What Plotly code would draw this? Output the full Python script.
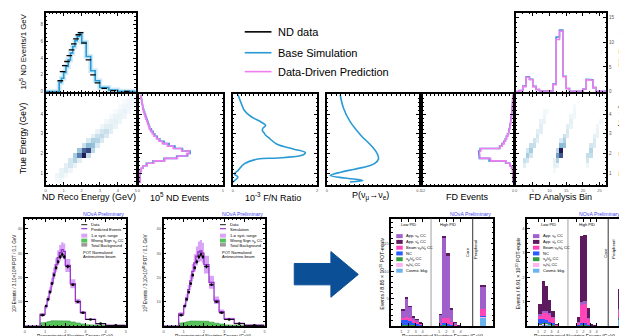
import numpy as np
import plotly.graph_objects as go

W, H = 627, 336
FONT = "Liberation Sans, Arial, sans-serif"

# ====================== DATA ======================
# --- top-left: ND reco energy spectrum (10^5 events / 1 GeV)
nd_reco_edges = [0, 0.75, 0.875, 1.0, 1.125, 1.25, 1.375, 1.5, 1.625, 1.75, 1.875, 2.0,
                 2.25, 2.5, 2.75, 3.0, 3.5, 4.0, 5.0]
nd_reco_sim = [0, 1.1, 1.6, 2.3, 3.0, 3.8, 4.6, 5.4, 6.1, 6.6, 6.9, 5.9, 4.2, 2.5, 1.3, 0.5, 0.2, 0.05]
nd_reco_data = [0, 1.3, 2.4, 3.1, 3.6, 4.3, 5.0, 5.7, 6.3, 6.8, 7.05, 5.8, 3.8, 2.0, 1.05, 0.4, 0.12, 0.03]

# --- true-energy binning for the side histograms
true_edges = list(np.arange(0.5, 5.0001, 0.125))
nd_true_sim = [0.01, 0.01, 0.01, 0.015, 0.02, 0.03, 0.05, 0.09, 0.17, 0.30, 0.45, 0.58, 0.61, 0.52,
               0.43, 0.36, 0.30, 0.25, 0.22, 0.19, 0.17, 0.15, 0.13, 0.12, 0.11, 0.10, 0.09, 0.08,
               0.07, 0.06, 0.05, 0.045, 0.04, 0.035, 0.03, 0.025]
nd_true_pred = [0.02, 0.015, 0.01, 0.012, 0.02, 0.03, 0.05, 0.10, 0.18, 0.31, 0.46, 0.57, 0.60, 0.51,
                0.41, 0.34, 0.28, 0.24, 0.21, 0.18, 0.16, 0.14, 0.125, 0.115, 0.105, 0.095, 0.085,
                0.075, 0.065, 0.055, 0.05, 0.045, 0.04, 0.035, 0.03, 0.025]
fd_true_sim = [0, 0, 0.01, 0.02, 0.04, 0.08, 0.2, 0.45, 1.0, 3.2, 4.5, 4.6, 4.6, 4.4, 1.8, 1.5,
               1.25, 1.05, 0.9, 0.75, 0.62, 0.55, 0.48, 0.42, 0.36, 0.31, 0.27, 0.23, 0.19, 0.16,
               0.13, 0.1, 0.08, 0.06, 0.05, 0.04]
fd_true_pred = [0, 0, 0.01, 0.02, 0.04, 0.08, 0.2, 0.43, 0.95, 3.0, 4.4, 4.5, 4.5, 4.3, 1.75, 1.45,
                1.2, 1.0, 0.86, 0.72, 0.6, 0.52, 0.45, 0.4, 0.34, 0.29, 0.25, 0.21, 0.18, 0.15,
                0.12, 0.1, 0.08, 0.06, 0.05, 0.04]

# --- far/near ratio (10^-3) and oscillation probability vs true energy
fn_true = [0.55, 0.8, 0.95, 1.13, 1.47, 1.72, 1.77, 1.88, 1.97, 2.05, 2.22, 2.47, 2.8, 2.93,
           3.05, 3.17, 3.3, 3.43, 3.6, 3.88, 4.2, 4.55, 5.0]
fn_ratio = [0.0, 0.12, 0.04, 0.12, 0.27, 0.59, 1.06, 1.6, 1.7, 1.72, 1.45, 1.05, 0.85, 0.78,
            0.74, 0.7, 0.72, 0.78, 0.67, 0.43, 0.27, 0.2, 0.12]
p_true = [0.55, 0.63, 0.75, 0.88, 1.05, 1.2, 1.38, 1.5, 1.72, 1.95, 2.3, 2.97, 3.63, 4.3, 5.0]
p_val = [0.025, 0.039, 0.02, 0.0036, 0.015, 0.03, 0.046, 0.052, 0.056, 0.055, 0.05, 0.036,
         0.025, 0.018, 0.0143]

# --- ND reco vs true heat map (sparse cells)
nd_cell_reco = [0.625, 0.875,
                0.625, 0.875, 1.125,
                0.875, 1.125, 1.375,
                1.125, 1.375, 1.625,
                1.375, 1.625, 1.875,
                1.625, 1.875, 2.125, 2.375,
                1.875, 2.125, 2.375, 2.625,
                2.125, 2.375, 2.625, 2.875,
                2.375, 2.625, 2.875, 3.125,
                2.625, 2.875, 3.125, 3.375,
                2.875, 3.125, 3.375, 3.625,
                3.125, 3.375, 3.625, 3.875,
                3.375, 3.625, 3.875, 4.125,
                3.625, 3.875, 4.125, 4.375,
                3.875, 4.125, 4.375, 4.625,
                4.125, 4.375, 4.625, 4.875,
                4.375, 4.625, 4.875,
                4.625, 4.875]
nd_cell_true = [0.625, 0.625,
                0.875, 0.875, 0.875,
                1.125, 1.125, 1.125,
                1.375, 1.375, 1.375,
                1.625, 1.625, 1.625,
                1.875, 1.875, 1.875, 1.875,
                2.125, 2.125, 2.125, 2.125,
                2.375, 2.375, 2.375, 2.375,
                2.625, 2.625, 2.625, 2.625,
                2.875, 2.875, 2.875, 2.875,
                3.125, 3.125, 3.125, 3.125,
                3.375, 3.375, 3.375, 3.375,
                3.625, 3.625, 3.625, 3.625,
                3.875, 3.875, 3.875, 3.875,
                4.125, 4.125, 4.125, 4.125,
                4.375, 4.375, 4.375, 4.375,
                4.625, 4.625, 4.625,
                4.875, 4.875]
nd_cell_w = [0.04, 0.04,
             0.06, 0.09, 0.04,
             0.08, 0.13, 0.06,
             0.11, 0.18, 0.08,
             0.18, 0.30, 0.12,
             0.35, 0.65, 1.00, 0.25,
             0.40, 0.75, 0.85, 0.28,
             0.22, 0.45, 0.42, 0.15,
             0.15, 0.32, 0.30, 0.15,
             0.10, 0.22, 0.26, 0.15,
             0.08, 0.18, 0.22, 0.11,
             0.06, 0.11, 0.13, 0.08,
             0.05, 0.09, 0.10, 0.06,
             0.04, 0.08, 0.09, 0.06,
             0.03, 0.06, 0.08, 0.05,
             0.03, 0.05, 0.06, 0.04,
             0.03, 0.05, 0.05,
             0.03, 0.04]

# --- FD analysis bin vs true energy heat map (sparse cells)
fd_cell_bin = [2, 2, 3, 3, 4, 3, 4, 4, 5, 5, 6, 6, 6, 7, 7, 7, 8, 8, 8, 9,
               11, 11, 12, 11, 12, 12, 13, 12, 13, 13, 14, 13, 14, 14, 15, 15, 15, 16, 16, 16, 17, 17, 17,
               21, 21, 21, 22, 22, 22, 23, 23, 23, 24, 24, 24, 25]
fd_cell_true = [1.375, 1.625, 1.625, 1.875, 1.875, 2.125, 2.125, 2.375, 2.375, 2.625, 2.625, 2.875,
                3.125, 3.125, 3.375, 3.625, 3.625, 3.875, 4.125, 4.125,
                1.125, 1.375, 1.375, 1.625, 1.625, 1.875, 1.875, 2.125, 2.125, 2.375, 2.375, 2.625,
                2.625, 2.875, 2.875, 3.125, 3.375, 3.375, 3.625, 3.875, 3.875, 4.125, 4.375,
                1.375, 1.625, 1.875, 1.875, 2.125, 2.375, 2.375, 2.625, 2.875, 2.875, 3.125, 3.375, 3.625]
fd_cell_w = [0.12, 0.22, 0.18, 0.35, 0.18, 0.18, 0.35, 0.24, 0.24, 0.20, 0.12, 0.18,
             0.12, 0.12, 0.12, 0.08, 0.08, 0.06, 0.05, 0.04,
             0.05, 0.10, 0.08, 0.10, 0.32, 0.55, 0.80, 0.28, 1.00, 0.45, 0.42, 0.15,
             0.32, 0.22, 0.14, 0.17, 0.12, 0.08, 0.10, 0.06, 0.05, 0.05, 0.04,
             0.06, 0.18, 0.24, 0.24, 0.30, 0.18, 0.15, 0.15, 0.10, 0.08, 0.08, 0.06, 0.05]

# --- FD events per analysis bin
fd_bin_sim = [0, 0.2, 1.1, 3.0, 2.5, 1.05, 0.4, 0.1, 0.05, 0.05, 0.1, 1.5, 11.1, 12.5, 3.1, 0.6,
              0.1, 0.05, 0.05, 0.05, 0.5, 2.5, 2.4, 0.8, 0.1, 0.05, 0.05]
fd_bin_pred = [0, 0.2, 1.0, 2.9, 2.4, 1.0, 0.4, 0.1, 0.05, 0.05, 0.1, 1.4, 10.6, 12.3, 3.0, 0.6,
               0.1, 0.05, 0.05, 0.05, 0.5, 2.4, 2.3, 0.8, 0.1, 0.05, 0.05]

# --- bottom row: ND antineutrino spectra (10^3 events / 0.1 GeV)
bp_edges = [0, 0.75, 1.0, 1.1, 1.2, 1.3, 1.4, 1.5, 1.6, 1.7, 1.8, 1.9, 2.0, 2.25, 2.5, 2.75, 3.0, 3.5, 4.0, 5.0]
bp_data = [0, 4.5, 8.3, 11, 14, 17.5, 21, 24, 26.5, 28.5, 29.5, 28.5, 24.5, 17, 10, 5.5, 2.7, 1.0, 0.3]
bp_pred = [0, 4.8, 8.0, 11.2, 14.5, 18, 21.8, 25.2, 28.2, 30.2, 31.5, 30.8, 25, 17.5, 10.2, 5.6, 2.8, 1.0, 0.3]
bp_pred_hi = [0, 5.3, 8.9, 12.4, 16.0, 19.9, 24.1, 27.9, 31.2, 33.4, 34.5, 34.0, 27.6, 19.3, 11.3, 6.2, 3.1, 1.15, 0.35]
bp_pred_lo = [0, 4.3, 7.1, 10.0, 12.9, 16.0, 19.4, 22.4, 25.1, 26.9, 28.0, 27.4, 22.3, 15.6, 9.1, 5.0, 2.5, 0.88, 0.25]
bp_pred_ws = [0, 1.3, 1.6, 1.8, 2.0, 2.2, 2.3, 2.4, 2.4, 2.4, 2.3, 2.3, 2.1, 1.7, 1.3, 0.9, 0.55, 0.3, 0.1]
bp_sim = [0, 5.0, 8.3, 11.6, 15.0, 18.6, 22.5, 26.0, 28.8, 30.5, 31.0, 30.0, 25.3, 18.0, 10.6, 5.9, 3.0, 1.1, 0.35]
bp_sim_hi = [0, 5.7, 9.4, 13.1, 17.0, 21.1, 25.6, 29.6, 32.8, 34.8, 35.4, 34.3, 29.0, 20.7, 12.2, 6.8, 3.45, 1.27, 0.4]
bp_sim_lo = [0, 4.3, 7.2, 10.0, 13.0, 16.1, 19.5, 22.5, 24.9, 26.3, 26.7, 25.8, 21.7, 15.4, 9.1, 5.1, 2.6, 0.95, 0.3]
bp_sim_ws = [0, 1.2, 1.5, 1.7, 1.9, 2.1, 2.2, 2.3, 2.3, 2.3, 2.2, 2.2, 2.0, 1.6, 1.2, 0.85, 0.5, 0.28, 0.1]

# --- FD nu_e predictions: 6 low-PID bins, 6 high-PID bins, 1 peripheral bin
fd_e = [1.25, 1.75, 2.25, 2.75, 3.25, 3.75]
fdn_cosmic = [0.15, 0.2, 0.15, 0.12, 0.1, 0.08, 0.05, 0.1, 0.1, 0.05, 0.02, 0.01, 1.7]
fdn_nutau = [0.02, 0.03, 0.05, 0.05, 0.04, 0.03, 0.0, 0.02, 0.03, 0.03, 0.02, 0.01, 0.02]
fdn_numu = [0.1, 0.1, 0.08, 0.06, 0.05, 0.04, 0.02, 0.05, 0.05, 0.03, 0.02, 0.01, 0.05]
fdn_beam = [0.3, 0.45, 0.45, 0.4, 0.35, 0.25, 0.15, 0.9, 1.0, 0.5, 0.15, 0.05, 1.3]
fdn_nc = [1.0, 0.9, 0.75, 0.45, 0.3, 0.15, 0.2, 0.4, 0.3, 0.15, 0.05, 0.02, 0.15]
fdn_app_nue = [1.35, 3.4, 2.1, 0.6, 0.35, 0.05, 1.7, 14.6, 11.4, 2.4, 0.4, 0.1, 4.1]
fdn_app_nuebar = [0.08, 0.12, 0.12, 0.06, 0.03, 0.02, 0.08, 0.5, 0.45, 0.12, 0.03, 0.01, 0.2]

fda_cosmic = [0.05, 0.08, 0.08, 0.06, 0.04, 0.02, 0.01, 0.03, 0.03, 0.02, 0.01, 0.0, 0.3]
fda_nutau = [0.01, 0.02, 0.02, 0.02, 0.01, 0.0, 0.0, 0.01, 0.01, 0.01, 0.0, 0.0, 0.0]
fda_numu = [0.03, 0.04, 0.04, 0.03, 0.02, 0.01, 0.01, 0.02, 0.02, 0.01, 0.0, 0.0, 0.02]
fda_beam = [0.15, 0.28, 0.3, 0.3, 0.25, 0.03, 0.1, 0.75, 0.8, 0.25, 0.03, 0.01, 0.28]
fda_nc = [0.2, 0.15, 0.12, 0.08, 0.05, 0.01, 0.03, 0.07, 0.06, 0.03, 0.01, 0.0, 0.03]
fda_app_nue = [0.06, 0.08, 0.07, 0.04, 0.02, 0.0, 0.02, 0.12, 0.12, 0.03, 0.0, 0.0, 0.07]
fda_app_nuebar = [0.4, 1.2, 1.04, 0.57, 0.26, 0.01, 0.23, 2.7, 2.71, 0.4, 0.05, 0.01, 0.85]

NUB = "\u03bd\u0304"
fd_labels = ["App. \u03bd<sub>e</sub> CC", "App. " + NUB + "<sub>e</sub> CC",
             "Beam \u03bd<sub>e</sub>/" + NUB + "<sub>e</sub> CC", "NC",
             "\u03bd<sub>\u03bc</sub>/" + NUB + "<sub>\u03bc</sub> CC",
             "\u03bd<sub>\u03c4</sub>/" + NUB + "<sub>\u03c4</sub> CC", "Cosmic bkg."]

# ====================== STYLE ======================
BLUE = "#2a9ad4"
PINK = "#f07cf0"
PALE = "#d3ebf7"
PURPLE = "#9933cc"
BAND = "#d9a3f7"
GREEN = "#55c25a"
GREY = "#9a9a9a"
NOVA = "#3f48f0"
fd_colors = ["#a15fcc", "#5e1a5e", "#ff45b8", "#2b5bff", "#2e9e3a", "#ffb3f0", "#6cb4ee"]
heat_scale = [[0, "#ffffff"], [0.05, "#f1f7fa"], [0.2, "#cfe4ee"], [0.45, "#8dbdd6"],
              [0.7, "#4d72a8"], [1, "#221c55"]]

fig = go.Figure()
layout = {}
shapes = []
annotations = []


def P(xpx, ypx):
    return xpx / W, 1 - ypx / H


def axes(n, xpx, ypx, xr, yr, xkw=None, ykw=None, fs=4.5):
    sfx = "" if n == 1 else str(n)
    base = dict(showline=True, linewidth=1.6, linecolor="black", mirror="ticks", ticks="inside",
                ticklen=3, tickwidth=0.7, tickcolor="black", showgrid=False, zeroline=False,
                tickfont=dict(size=fs, color="#555555", family=FONT), fixedrange=True,
                minor=dict(ticks="inside", ticklen=1.5, tickwidth=0.5, tickcolor="black"))
    xa = dict(base)
    xa.update(domain=[xpx[0] / W, xpx[1] / W], range=xr, anchor="y" + sfx)
    xa.update(xkw or {})
    ya = dict(base)
    ya.update(domain=[1 - ypx[1] / H, 1 - ypx[0] / H], range=yr, anchor="x" + sfx)
    ya.update(ykw or {})
    layout["xaxis" + sfx] = xa
    layout["yaxis" + sfx] = ya
    return "x" + sfx, "y" + sfx


def ann(text, x, y, size, angle=0, color="black", xanchor="center", yanchor="middle"):
    xp, yp = P(x, y)
    annotations.append(dict(text=text, x=xp, y=yp, xref="paper", yref="paper", showarrow=False,
                            textangle=angle, xanchor=xanchor, yanchor=yanchor,
                            font=dict(size=size, color=color, family=FONT)))


def rect(x0, y0, x1, y1, color):
    a, b = P(x0, y0), P(x1, y1)
    shapes.append(dict(type="rect", xref="paper", yref="paper", x0=a[0], x1=b[0], y0=b[1], y1=a[1],
                       fillcolor=color, line=dict(width=0)))


def seg(x0, y0, x1, y1, color, width):
    a, b = P(x0, y0), P(x1, y1)
    shapes.append(dict(type="line", xref="paper", yref="paper", x0=a[0], x1=b[0], y0=a[1], y1=b[1],
                       line=dict(color=color, width=width)))


def step_xy(edges, vals):
    xs, ys = [], []
    for i, v in enumerate(vals):
        xs += [edges[i], edges[i + 1]]
        ys += [v, v]
    return xs, ys


def line(xa, ya, x, y, color, width, shape="linear"):
    fig.add_trace(go.Scatter(x=x, y=y, xaxis=xa, yaxis=ya, mode="lines", hoverinfo="skip",
                             line=dict(color=color, width=width, shape=shape), showlegend=False))


def sparse_grid(xc, yc, xs, ys, ws, xstep, ystep, x0, y0):
    z = np.zeros((len(yc), len(xc)))
    for a, b, w in zip(xs, ys, ws):
        z[int(round((b - y0) / ystep - 0.5)), int(round((a - x0) / xstep - 0.5))] = w
    return z


Y_TRUE = [0.4, 5.0]
TOP = (5, 85)
MID = (87, 178)
SMALLX = dict(size=4, color="#555555", family=FONT)

# ---------- 1: ND reco spectrum ----------
xa, ya = axes(1, (36, 127), TOP, [0, 5], [-0.1, 9.4],
              dict(showticklabels=False, dtick=1),
              dict(dtick=2, tickvals=[0, 2, 4, 6, 8]))
sx, sy = step_xy(nd_reco_edges, nd_reco_sim)
line(xa, ya, sx, sy, PALE, 5)
line(xa, ya, sx, sy, BLUE, 1.6)
cx = [(nd_reco_edges[i] + nd_reco_edges[i + 1]) / 2 for i in range(len(nd_reco_data)) if nd_reco_data[i] > 0]
cy = [v for v in nd_reco_data if v > 0]
fig.add_trace(go.Scatter(x=cx, y=cy, xaxis=xa, yaxis=ya, mode="markers", showlegend=False,
                         marker=dict(symbol="line-ew", size=4, line=dict(color="black", width=1.3))))

# ---------- 2: ND heat map ----------
xa, ya = axes(2, (36, 127), MID, [0, 5], Y_TRUE, dict(dtick=1, tickfont=SMALLX),
              dict(tickvals=[1, 2, 3, 4]))
nd_xc = list(np.arange(0.125, 5, 0.25))
yc = list(np.arange(0.625, 5, 0.25))
z = sparse_grid(nd_xc, yc, nd_cell_reco, nd_cell_true, nd_cell_w, 0.25, 0.25, 0.0, 0.5)
fig.add_trace(go.Heatmap(x=nd_xc, y=yc, z=z, xaxis=xa, yaxis=ya, colorscale=heat_scale, zmin=0,
                         zmax=1, showscale=False, hoverinfo="skip"))

# ---------- 3: ND events vs true energy ----------
xa, ya = axes(3, (130, 215), MID, [0, 1.0], Y_TRUE, dict(tickvals=[0, 1], tickfont=SMALLX),
              dict(showticklabels=False, tickvals=[1, 2, 3, 4]))
ys_, xs_ = step_xy(true_edges, nd_true_sim)
line(xa, ya, xs_, ys_, BLUE, 1.6)
ys_, xs_ = step_xy(true_edges, nd_true_pred)
line(xa, ya, xs_, ys_, PINK, 1.6)

# ---------- 4: F/N ratio ----------
xa, ya = axes(4, (225, 310), MID, [0, 2], Y_TRUE, dict(tickvals=[0, 2], tickfont=SMALLX),
              dict(showticklabels=False, tickvals=[1, 2, 3, 4]))
line(xa, ya, fn_ratio, fn_true, BLUE, 1.6, "spline")

# ---------- 5: oscillation probability ----------
xa, ya = axes(5, (320, 413), MID, [0, 0.1], Y_TRUE, dict(tickvals=[0, 0.1], tickfont=SMALLX),
              dict(showticklabels=False, tickvals=[1, 2, 3, 4]))
line(xa, ya, p_val, p_true, BLUE, 1.6, "spline")

# ---------- 6: FD events vs true energy ----------
xa, ya = axes(6, (417, 508), MID, [12, 0], Y_TRUE, dict(tickvals=[12, 0], tickfont=SMALLX),
              dict(showticklabels=False, tickvals=[1, 2, 3, 4]))
ys_, xs_ = step_xy(true_edges, fd_true_sim)
line(xa, ya, xs_, ys_, BLUE, 1.6)
ys_, xs_ = step_xy(true_edges, fd_true_pred)
line(xa, ya, xs_, ys_, PINK, 1.6)

# ---------- 7: FD heat map ----------
xa, ya = axes(7, (511, 602), MID, [0, 27], Y_TRUE, dict(tickvals=[0, 5, 10, 15, 20, 25], tickfont=SMALLX),
              dict(tickvals=[1, 2, 3, 4], side="right"))
fd_xc = list(np.arange(0.5, 27, 1.0))
z = sparse_grid(fd_xc, yc, [b + 0.5 for b in fd_cell_bin], fd_cell_true, fd_cell_w, 1.0, 0.25, 0.0, 0.5)
fig.add_trace(go.Heatmap(x=fd_xc, y=yc, z=z, xaxis=xa, yaxis=ya, colorscale=heat_scale, zmin=0,
                         zmax=1, showscale=False, hoverinfo="skip"))

# ---------- 8: FD events per analysis bin ----------
xa, ya = axes(8, (511, 602), TOP, [0, 27], [-0.2, 16],
              dict(showticklabels=False, tickvals=[0, 5, 10, 15, 20, 25]),
              dict(tickvals=[0, 5, 10, 15], side="right"))
fd_bin_edges = list(range(0, 28))
sx, sy = step_xy(fd_bin_edges, fd_bin_sim)
line(xa, ya, sx, sy, BLUE, 1.6)
sx, sy = step_xy(fd_bin_edges, fd_bin_pred)
line(xa, ya, sx, sy, PINK, 1.6)

# top-row axis titles
ann("ND Reco Energy (GeV)", 80, 190, 9)
ann("10<sup>5</sup> ND Events", 172, 190, 9)
ann("10<sup>-3</sup> F/N Ratio", 266, 190, 9)
ann("P(\u03bd<sub>\u03bc</sub>\u2192\u03bd<sub>e</sub>)", 364, 189, 9)
ann("FD Events", 462, 190, 9)
ann("FD Analysis Bin", 556, 190, 9)
ann("10<sup>5</sup> ND Events/1 GeV", 13, 44, 7.8, angle=-90)
ann("True Energy (GeV)", 13, 131, 8.5, angle=-90)
ann("FD Events", 618, 40, 8.5, angle=-90)
ann("True Energy (GeV)", 618, 133, 8.5, angle=-90)

# top legend
for yy, col, txt in [(24, "black", "ND data"), (45, BLUE, "Base Simulation"),
                     (64, PINK, "Data-Driven Prediction")]:
    seg(237, yy, 264, yy, col, 1.6)
    ann(txt, 269, yy, 11, xanchor="left")

# ---------- 9 / 10: ND antineutrino spectra ----------
BOT = (212, 320)


def nd_panel(n, xpx, main, hi, lo, ws, main_label, leg_x):
    xa, ya = axes(n, xpx, BOT, [0, 5], [0, 44.2], dict(dtick=1), dict(tickvals=[10, 20, 30, 40]), fs=4)
    bx = step_xy(bp_edges, hi)[0] + step_xy(bp_edges, lo)[0][::-1]
    by = step_xy(bp_edges, hi)[1] + step_xy(bp_edges, lo)[1][::-1]
    fig.add_trace(go.Scatter(x=bx, y=by, xaxis=xa, yaxis=ya, mode="lines", fill="toself",
                             fillcolor=BAND, line=dict(width=0), showlegend=False, hoverinfo="skip"))
    gx, gy = step_xy(bp_edges, ws)
    fig.add_trace(go.Scatter(x=gx, y=gy, xaxis=xa, yaxis=ya, mode="lines", fill="tozeroy",
                             fillcolor=GREEN, line=dict(width=0.6, color="#2f9a3a"),
                             showlegend=False, hoverinfo="skip"))
    mx, my = step_xy(bp_edges, main)
    line(xa, ya, mx, my, PURPLE, 1.3)
    ctr = [(bp_edges[i] + bp_edges[i + 1]) / 2 for i in range(len(bp_data)) if bp_data[i] > 0]
    hw = [(bp_edges[i + 1] - bp_edges[i]) / 2 for i in range(len(bp_data)) if bp_data[i] > 0]
    dv = [v for v in bp_data if v > 0]
    fig.add_trace(go.Scatter(x=ctr, y=dv, xaxis=xa, yaxis=ya, mode="markers", showlegend=False,
                             marker=dict(color="black", size=2.6),
                             error_x=dict(type="data", array=hw, color="black", thickness=0.9, width=0),
                             error_y=dict(type="percent", value=3, color="black", thickness=0.9, width=0)))
    # legend
    seg(leg_x, 218, leg_x + 6, 218, "black", 0.9)
    ann("Data", leg_x + 8, 218, 4, xanchor="left")
    seg(leg_x, 222, leg_x + 6, 222, PURPLE, 1.2)
    ann(main_label, leg_x + 8, 222.5, 4, xanchor="left")
    rect(leg_x, 227, leg_x + 6, 231, BAND)
    ann("1-\u03c3 syst. range", leg_x + 8, 229, 4, xanchor="left")
    rect(leg_x, 232, leg_x + 6, 236, GREEN)
    ann("Wrong Sign \u03bd<sub>\u03bc</sub> CC", leg_x + 8, 234, 4, xanchor="left")
    rect(leg_x, 236.5, leg_x + 6, 240, GREY)
    ann("Total Background", leg_x + 8, 238.5, 4, xanchor="left")
    ann("POT Normalized", leg_x, 245.5, 4, xanchor="left")
    ann("Antineutrino beam", leg_x, 250, 4, xanchor="left")


nd_panel(9, (15, 117), bp_pred, bp_pred_hi, bp_pred_lo, bp_pred_ws, "Predicted Events", 72)
nd_panel(10, (155, 257), bp_sim, bp_sim_hi, bp_sim_lo, bp_sim_ws, "Simulation", 212)

ann("NOvA Preliminary", 117, 207, 5.2, color=NOVA, xanchor="right")
ann("NOvA Preliminary", 257, 207, 5.2, color=NOVA, xanchor="right")
ann("10<sup>3</sup> Events / 3.10\u00d710<sup>20</sup> POT / 0.1 GeV", 5, 266, 4.6, angle=-90)
ann("10<sup>3</sup> Events / 3.10\u00d710<sup>20</sup> POT / 0.1 GeV", 137, 266, 4.6, angle=-90)
ann("Reconstructed Neutrino Energy (GeV)", 66, 330.5, 4.5)
ann("Reconstructed Neutrino Energy (GeV)", 205, 330.5, 4.5)

# ---------- arrow ----------
pts = [(287, 257), (324, 257), (324, 245), (351.7, 268), (324, 291), (324, 278.5), (287, 278.5)]
path = "M " + " L ".join("%.5f,%.5f" % P(a, b) for a, b in pts) + " Z"
shapes.append(dict(type="path", xref="paper", yref="paper", path=path, fillcolor="#0b4f96",
                   line=dict(color="#0b4f96", width=1)))

# ---------- 11 / 12: FD stacked predictions ----------


def fd_panel(n, xpx, xr, yr, ytick, off, div1, div2, peri_x, peri_w, comps, leg_x, title, txt_pos):
    tv = [1, 2, 3, 4] + [e + off for e in [1, 2, 3, 4]]
    xa, ya = axes(n, xpx, BOT, xr, yr,
                  dict(tickvals=tv, ticktext=["1", "2", "3", "4"] * 2, minor=dict(ticks="")),
                  dict(tickvals=ytick), fs=4)
    xpos = fd_e + [e + off for e in fd_e] + [peri_x]
    widths = [0.5] * 12 + [peri_w]
    order = [6, 5, 4, 3, 2, 0, 1]
    for k in order:
        fig.add_trace(go.Bar(x=xpos, y=comps[k], width=widths, xaxis=xa, yaxis=ya,
                             marker=dict(color=fd_colors[k], line=dict(width=0)),
                             showlegend=False, hoverinfo="skip"))
    shapes.append(dict(type="line", xref=xa, yref=ya + " domain", x0=div1, x1=div1, y0=0, y1=1,
                       line=dict(color="#b0b0b0", width=1.2)))
    shapes.append(dict(type="line", xref=xa, yref=ya + " domain", x0=div2, x1=div2, y0=0, y1=1,
                       line=dict(color="#555555", width=1.2)))
    for i, lab in enumerate(fd_labels):
        yy = 229.5 + 5.8 * i
        rect(leg_x, yy - 2, leg_x + 6.5, yy + 2, fd_colors[i])
        ann(lab, leg_x + 8, yy, 4, xanchor="left")
    (lx, hx, cx_, px_) = txt_pos
    ann("Low PID", lx, 218, 4)
    ann("High PID", hx, 218, 4)
    ann("Core", cx_, 246, 4.2, angle=-90)
    ann("Peripheral", px_, 243, 4.2, angle=-90)
    ann(title, xpx[0] - 9, 267, 5.2, angle=-90)
    ann("Reconstructed Neutrino Energy (GeV)", (xpx[0] + xpx[1]) / 2, 330.5, 4.8)
    ann("NOvA Preliminary", xpx[1], 207, 5.2, color=NOVA, xanchor="right")


comps_n = [fdn_app_nue, fdn_app_nuebar, fdn_beam, fdn_nc, fdn_numu, fdn_nutau, fdn_cosmic]
comps_a = [fda_app_nue, fda_app_nuebar, fda_beam, fda_nc, fda_numu, fda_nutau, fda_cosmic]
fd_panel(11, (385, 488), [-0.4, 13.9], [0, 19.6], [5, 10, 15], 5.3, 5.17, 11.0, 12.45, 0.8,
         comps_n, 390, "Events / 8.85 \u00d7 10<sup>20</sup> POT-equiv", (402, 442, 462, 470))
fd_panel(12, (522, 618), [-0.7, 13.7], [0, 4.4], [1, 2, 3, 4], 5.85, 5.5, 11.6, 13.35, 0.6,
         comps_a, 528, "Events / 6.91 \u00d7 10<sup>20</sup> POT-equiv", (544, 583, 601, 609))

fig.update_layout(**layout)
fig.update_layout(width=W, height=H, margin=dict(l=0, r=0, t=0, b=0), paper_bgcolor="white",
                  plot_bgcolor="white", barmode="stack", bargap=0, showlegend=False,
                  shapes=shapes, annotations=annotations, font=dict(family=FONT))
fig.write_html("out.html")
